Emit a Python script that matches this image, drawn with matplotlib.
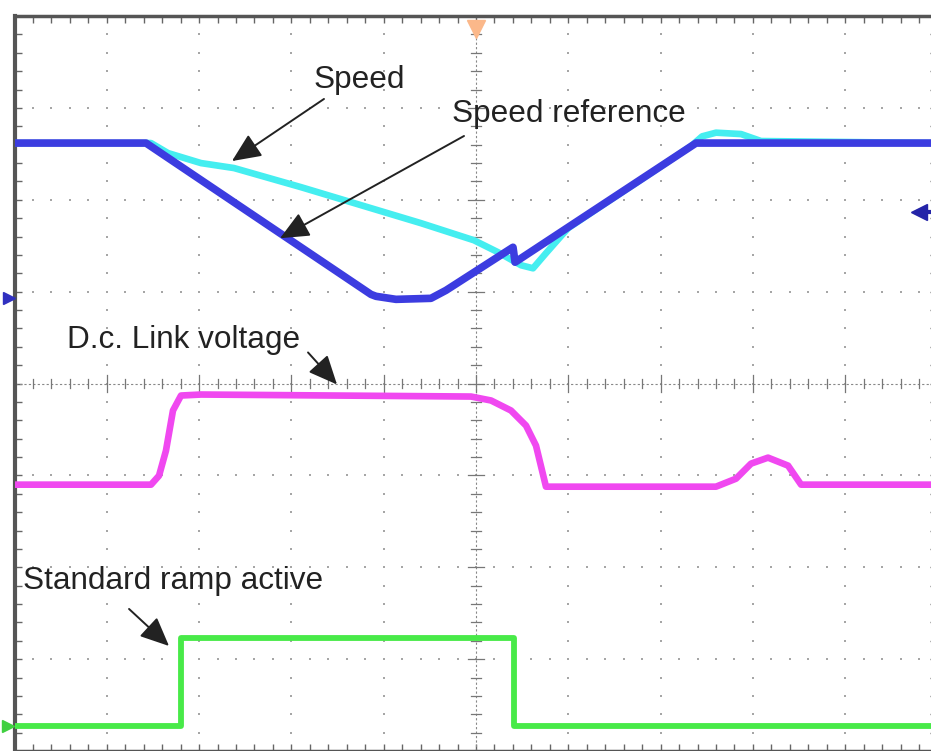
import matplotlib.pyplot as plt
import numpy as np

# scope screen in divisions: x 0..10, y -4..4 (0 = centre line)
ref_x = [0, 1.425, 3.862, 3.917, 4.133, 4.512, 4.675, 5.401, 5.423, 7.384, 10]
ref_y = [2.617, 2.617, 0.970, 0.949, 0.916, 0.927, 1.014, 1.483, 1.320, 2.617, 2.617]

speed_x = [0, 1.479, 1.663, 2.021, 2.378, 3.104, 4.404, 4.978, 5.238, 5.488, 5.618,
           5.758, 5.997, 6.354, 6.896, 7.330, 7.450, 7.600, 7.871, 8.088, 10]
speed_y = [2.617, 2.617, 2.508, 2.399, 2.345, 2.137, 1.745, 1.559, 1.429, 1.287, 1.254,
           1.418, 1.690, 1.930, 2.290, 2.584, 2.690, 2.730, 2.715, 2.639, 2.617]

dc_x = [0, 1.479, 1.566, 1.641, 1.717, 1.804, 2.021, 4.946, 5.163, 5.379, 5.542, 5.650,
        5.758, 7.600, 7.817, 7.980, 8.164, 8.381, 8.522, 10]
dc_y = [-1.101, -1.101, -1.003, -0.731, -0.294, -0.131, -0.120, -0.142, -0.185, -0.294,
        -0.458, -0.676, -1.123, -1.123, -1.036, -0.872, -0.807, -0.894, -1.101, -1.101]

ramp_x = [0, 1.804, 1.804, 5.412, 5.412, 10]
ramp_y = [-3.730, -3.730, -2.770, -2.770, -3.730, -3.730]

fig = plt.figure(figsize=(9.31, 7.51), dpi=100)
ax = fig.add_axes([14.5 / 931, 0 / 751, 923 / 931, 735 / 751])
ax.set_xlim(0, 10)
ax.set_ylim(-4, 4)

# graticule dots
minor = np.arange(0, 10.01, 0.2)
minor_y = np.arange(-4, 4.01, 0.2)
for gx in range(1, 10):
    if gx != 5:
        ax.plot(np.full(len(minor_y), gx), minor_y, 's', ms=1.9, color='#a6a6a6', mew=0)
for gy in range(-3, 4):
    if gy != 0:
        ax.plot(minor, np.full(len(minor), gy), 's', ms=1.9, color='#a6a6a6', mew=0)

# centre cross with tick marks
ax.plot([5, 5], [-4, 4], color='#888888', lw=0.8, ls=(0, (2, 2)))
ax.plot([0, 10], [0, 0], color='#888888', lw=0.8, ls=(0, (2, 2)))
for t in minor_y:
    h = 0.09 if abs(t - round(t)) < 1e-6 else 0.05
    ax.plot([5 - h, 5 + h], [t, t], color='#777777', lw=0.9)
for t in minor:
    h = 0.09 if abs(t - round(t)) < 1e-6 else 0.05
    ax.plot([t, t], [-h, h], color='#777777', lw=0.9)

# traces
ax.plot(speed_x, speed_y, color='#45eef0', lw=4.8, solid_joinstyle='round', zorder=3)
ax.plot(ref_x, ref_y, color='#3c3ce0', lw=5.5, solid_joinstyle='round', zorder=4)
ax.plot(dc_x, dc_y, color='#f048f0', lw=4.8, solid_joinstyle='round', zorder=3)
ax.plot(ramp_x, ramp_y, color='#48ea48', lw=4.2, zorder=3)

# labels and arrows
font = dict(family='Liberation Sans', fontsize=22.7, color='#222222', va='baseline', ha='left')
ax.text(3.235, 3.217, "Speed", **font, zorder=6)
ax.text(4.741, 2.846, "Speed reference", **font, zorder=6)
ax.text(0.570, 0.382, "D.c. Link voltage", **font, zorder=6)
ax.text(0.093, -2.236, "Standard ramp active", **font, zorder=6)

arrow = dict(arrowstyle='-|>,head_length=0.85,head_width=0.38', mutation_scale=21,
             color='#222222', lw=1.4, shrinkA=0, shrinkB=0)
ax.annotate("", xy=(2.356, 2.421), xytext=(3.353, 3.097), arrowprops=arrow, zorder=6)
ax.annotate("", xy=(2.877, 1.581), xytext=(4.870, 2.694), arrowprops=arrow, zorder=6)
ax.annotate("", xy=(3.494, -0.011), xytext=(3.180, 0.338), arrowprops=arrow, zorder=6)
ax.annotate("", xy=(1.674, -2.857), xytext=(1.241, -2.454), arrowprops=arrow, zorder=6)

# screen markers
ax.plot(5, 3.86, 'v', ms=13, color='#fbb88a', clip_on=False, zorder=7)
ax.plot(9.80, 1.865, '<', ms=11, color='#2424a8', clip_on=False, zorder=7)
ax.plot([9.80, 9.93], [1.865, 1.865], color='#2424a8', lw=3, clip_on=False, zorder=7)
ax.plot(-0.06, 0.927, '>', ms=8, color='#3030c0', clip_on=False, zorder=7)
ax.plot(-0.07, -3.73, '>', ms=8, color='#40d040', clip_on=False, zorder=7)

# frame with ticks every minor division
for s in ax.spines.values():
    s.set_color('#555555')
    s.set_linewidth(2.5)
ax.spines['left'].set_linewidth(3)
ax.set_xticks(minor)
ax.set_yticks(minor_y)
ax.tick_params(direction='in', length=5, width=1, color='#666666',
               top=True, right=True, labelbottom=False, labelleft=False)

fig.savefig("out.png", dpi=100)
